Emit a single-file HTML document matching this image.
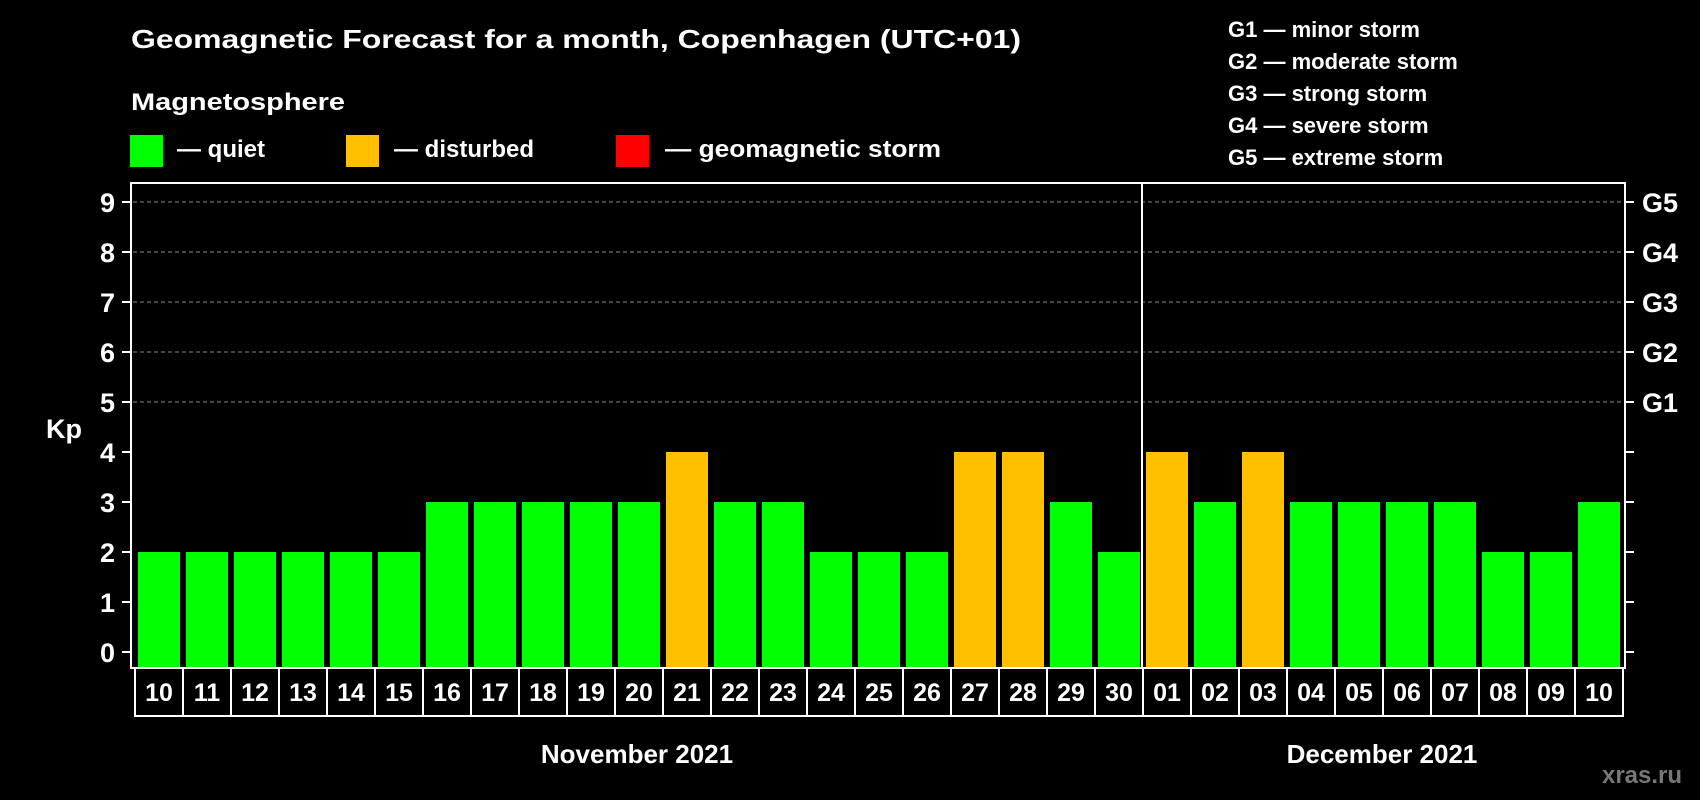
<!DOCTYPE html>
<html><head><meta charset="utf-8"><style>
html,body{margin:0;padding:0;background:#000;}
svg{display:block;font-family:"Liberation Sans",Arial,sans-serif;font-weight:bold;}
</style></head><body>
<svg id="chart" width="1700" height="800" viewBox="0 0 1700 800" xmlns="http://www.w3.org/2000/svg">
<rect x="0" y="0" width="1700" height="800" fill="#000"/>
<text x="131" y="48" font-size="26" fill="#fff" textLength="890" lengthAdjust="spacingAndGlyphs">Geomagnetic Forecast for a month, Copenhagen (UTC+01)</text>
<text x="131" y="110" font-size="24" fill="#fff" textLength="214" lengthAdjust="spacingAndGlyphs">Magnetosphere</text>
<g>
<rect x="130" y="135" width="33" height="32" fill="#00ff00"/>
<text x="177" y="157" font-size="24" fill="#fff">— quiet</text></g>
<g>
<rect x="346" y="135" width="33" height="32" fill="#ffc000"/>
<text x="394" y="157" font-size="24" fill="#fff">— disturbed</text></g>
<g>
<rect x="616" y="135" width="33" height="32" fill="#ff0000"/>
<text x="665" y="157" font-size="24" fill="#fff" textLength="276" lengthAdjust="spacingAndGlyphs">— geomagnetic storm</text></g>
<g font-size="22" fill="#fff">
<text x="1228" y="37">G1 — minor storm</text>
<text x="1228" y="69">G2 — moderate storm</text>
<text x="1228" y="101">G3 — strong storm</text>
<text x="1228" y="133">G4 — severe storm</text>
<text x="1228" y="165">G5 — extreme storm</text>
</g>
<g id="grid"></g>
<g id="bars"></g>
<g id="axes"></g>
<text x="64" y="438" font-size="27" fill="#fff" text-anchor="middle">Kp</text>
<text x="637" y="763" font-size="26" fill="#fff" text-anchor="middle">November 2021</text>
<text x="1382" y="763" font-size="26" fill="#fff" text-anchor="middle">December 2021</text>
<text x="1642" y="783" font-size="24" fill="#777" text-anchor="middle">xras.ru</text>
</svg>
<script>
const days = ["10","11","12","13","14","15","16","17","18","19","20","21","22","23","24","25","26","27","28","29","30","01","02","03","04","05","06","07","08","09","10"];
const kpValues = [2,2,2,2,2,2,3,3,3,3,3,4,3,3,2,2,2,4,4,3,2,4,3,4,3,3,3,3,2,2,3];
const yTicks = [0,1,2,3,4,5,6,7,8,9];
const gLabels = ["G1","G2","G3","G4","G5"];
const monthSplit = 21;

const NS = "http://www.w3.org/2000/svg";
const L = 131, R = 1625, T = 183, B = 668;
const x0 = 135, pitch = 48;
function yScale(v){ return 652 - v * 50; }
function xScale(i){ return x0 + i * pitch; }
function mk(tag, attrs, parent){ const e = document.createElementNS(NS, tag); for (const k in attrs) e.setAttribute(k, attrs[k]); parent.appendChild(e); return e; }
function colorFor(v){ return v >= 5 ? "#ff0000" : (v >= 4 ? "#ffc000" : "#00ff00"); }

const grid = document.getElementById("grid");
const bars = document.getElementById("bars");
const axes = document.getElementById("axes");

yTicks.forEach(v => {
  if (v >= 5) {
    const g = mk("line", {x1: L+2, x2: R-2, y1: yScale(v), y2: yScale(v), stroke: "#888", "stroke-width": 1, "stroke-dasharray": "4,3"}, grid);
    
    
  }
  const t = mk("line", {x1: L-9, x2: L, y1: yScale(v), y2: yScale(v), stroke: "#fff", "stroke-width": 2}, axes);
  
  
  const t2 = mk("line", {x1: R, x2: R+9, y1: yScale(v), y2: yScale(v), stroke: "#fff", "stroke-width": 2}, axes);
  
  
  const lab = mk("text", {x: 115, y: yScale(v) + 10, "font-size": 27, fill: "#fff", "text-anchor": "end"}, axes);
  lab.textContent = v;
  
  
});
gLabels.forEach((g, i) => {
  const lab = mk("text", {x: 1642, y: yScale(5 + i) + 10, "font-size": 27, fill: "#fff"}, axes);
  lab.textContent = g;
  
  
});

kpValues.forEach((v, i) => {
  const b = mk("rect", {x: xScale(i) + 3, y: yScale(v), width: 42, height: B - yScale(v), fill: colorFor(v)}, bars);
  
  
});

const frame = mk("rect", {x: L, y: T, width: R - L, height: B - T, fill: "none", stroke: "#fff", "stroke-width": 2}, axes);


const div = mk("line", {x1: xScale(monthSplit) - 1, x2: xScale(monthSplit) - 1, y1: T, y2: B, stroke: "#fff", "stroke-width": 2}, axes);



days.forEach((d, i) => {
  const box = mk("rect", {x: xScale(i), y: B, width: pitch, height: 48, fill: "none", stroke: "#fff", "stroke-width": 2}, axes);
  
  
  const t = mk("text", {x: xScale(i) + pitch/2, y: 701, "font-size": 25, fill: "#fff", "text-anchor": "middle"}, axes);
  t.textContent = d;
  
  
});
</script>
</body></html>
